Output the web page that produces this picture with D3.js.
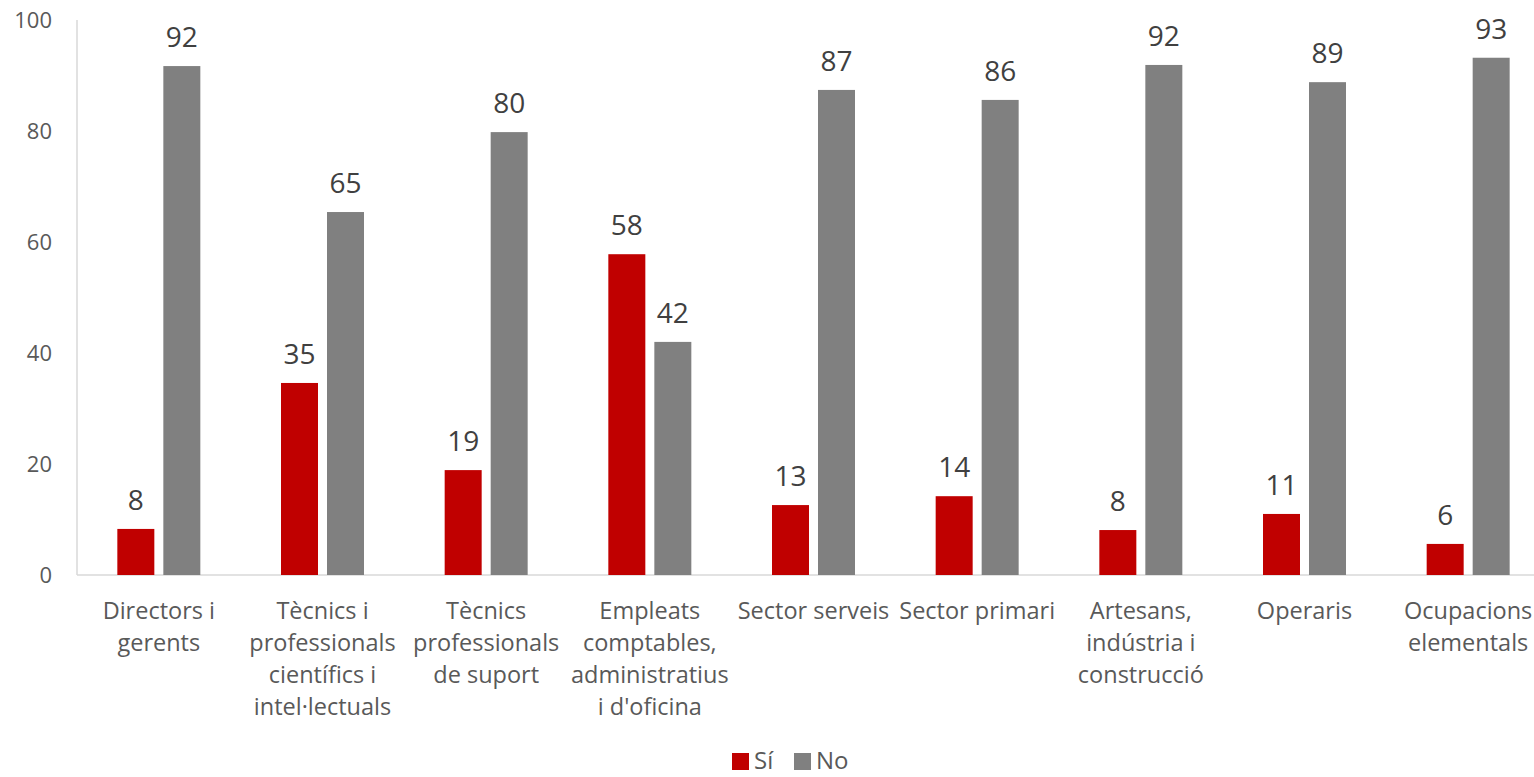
<!DOCTYPE html>
<html><head><meta charset="utf-8">
<script src="https://cdn.jsdelivr.net/npm/d3@7"></script>
<style>
html,body{margin:0;padding:0;background:#fff;overflow:hidden;}
svg{display:block;font-family:"Open Sans",sans-serif;}
</style></head>
<body>
<svg id="chart" width="1534" height="777"></svg>
<script>
const categories = [
  ["Directors i","gerents"],
  ["Tècnics i","professionals","científics i","intel·lectuals"],
  ["Tècnics","professionals","de suport"],
  ["Empleats","comptables,","administratius","i d'oficina"],
  ["Sector serveis"],
  ["Sector primari"],
  ["Artesans,","indústria i","construcció"],
  ["Operaris"],
  ["Ocupacions","elementals"]
];
const siValues = [8.3, 34.6, 18.9, 57.8, 12.6, 14.2, 8.1, 11.0, 5.6];
const noValues = [91.7, 65.4, 79.8, 42.0, 87.4, 85.6, 91.9, 88.8, 93.2];
const seriesNames = ["Sí", "No"];
const seriesColors = ["#C00000", "#808080"];
const yTicks = [0, 20, 40, 60, 80, 100];

(function () {
const svg = d3.select("#chart");
const mLeft = 77, mRight = 1550, mTop = 20, mBottom = 575;

const x = d3.scaleBand().domain(d3.range(categories.length)).range([mLeft, mRight]).paddingInner(0).paddingOuter(0);
const y = d3.scaleLinear().domain([0, 100]).range([mBottom, mTop]);

const barW = 37, offset = 23;

svg.append("line").attr("x1", mLeft).attr("x2", mLeft).attr("y1", mTop).attr("y2", mBottom)
  .attr("stroke", "#D9D9D9").attr("stroke-width", 1.5);
svg.append("line").attr("x1", mLeft).attr("x2", mRight).attr("y1", mBottom).attr("y2", mBottom)
  .attr("stroke", "#D9D9D9").attr("stroke-width", 1.5);

svg.append("g").selectAll("text").data(yTicks).join("text")
  .attr("x", 52).attr("y", d => y(d)).attr("dy", "0.35em")
  .attr("text-anchor", "end").attr("font-size", 22).attr("fill", "#595959")
  .text(d => d);

const series = [siValues, noValues];
series.forEach((vals, si) => {
  const dx = si === 0 ? -offset : offset;
  const g = svg.append("g");
  g.selectAll("rect").data(vals).join("rect")
    .attr("x", (d, i) => x(i) + x.bandwidth() / 2 + dx - barW / 2)
    .attr("width", barW)
    .attr("y", d => y(d))
    .attr("height", d => y(0) - y(d))
    .attr("fill", seriesColors[si]);
  g.selectAll("text").data(vals).join("text")
    .attr("x", (d, i) => x(i) + x.bandwidth() / 2 + dx)
    .attr("y", d => y(d) - 19)
    .attr("text-anchor", "middle").attr("font-size", 28).attr("fill", "#404040")
    .text(d => Math.round(d));
});

const cg = svg.append("g");
categories.forEach((lines, i) => {
  const cx = x(i) + x.bandwidth() / 2;
  const t = cg.append("text")
    .attr("x", cx).attr("y", 619)
    .attr("text-anchor", "middle").attr("font-size", 23.5).attr("fill", "#595959");
  lines.forEach((ln, j) => {
    t.append("tspan").attr("x", cx).attr("dy", j === 0 ? 0 : 32).text(ln);
  });
});

const lg = svg.append("g");
const legendX = [732, 794];
seriesNames.forEach((n, i) => {
  lg.append("rect").attr("x", legendX[i]).attr("y", 753).attr("width", 17).attr("height", 17).attr("fill", seriesColors[i]);
  lg.append("text").attr("x", legendX[i] + 22).attr("y", 769).attr("font-size", 24).attr("fill", "#595959").text(n);
});
})();
</script>
</body></html>
